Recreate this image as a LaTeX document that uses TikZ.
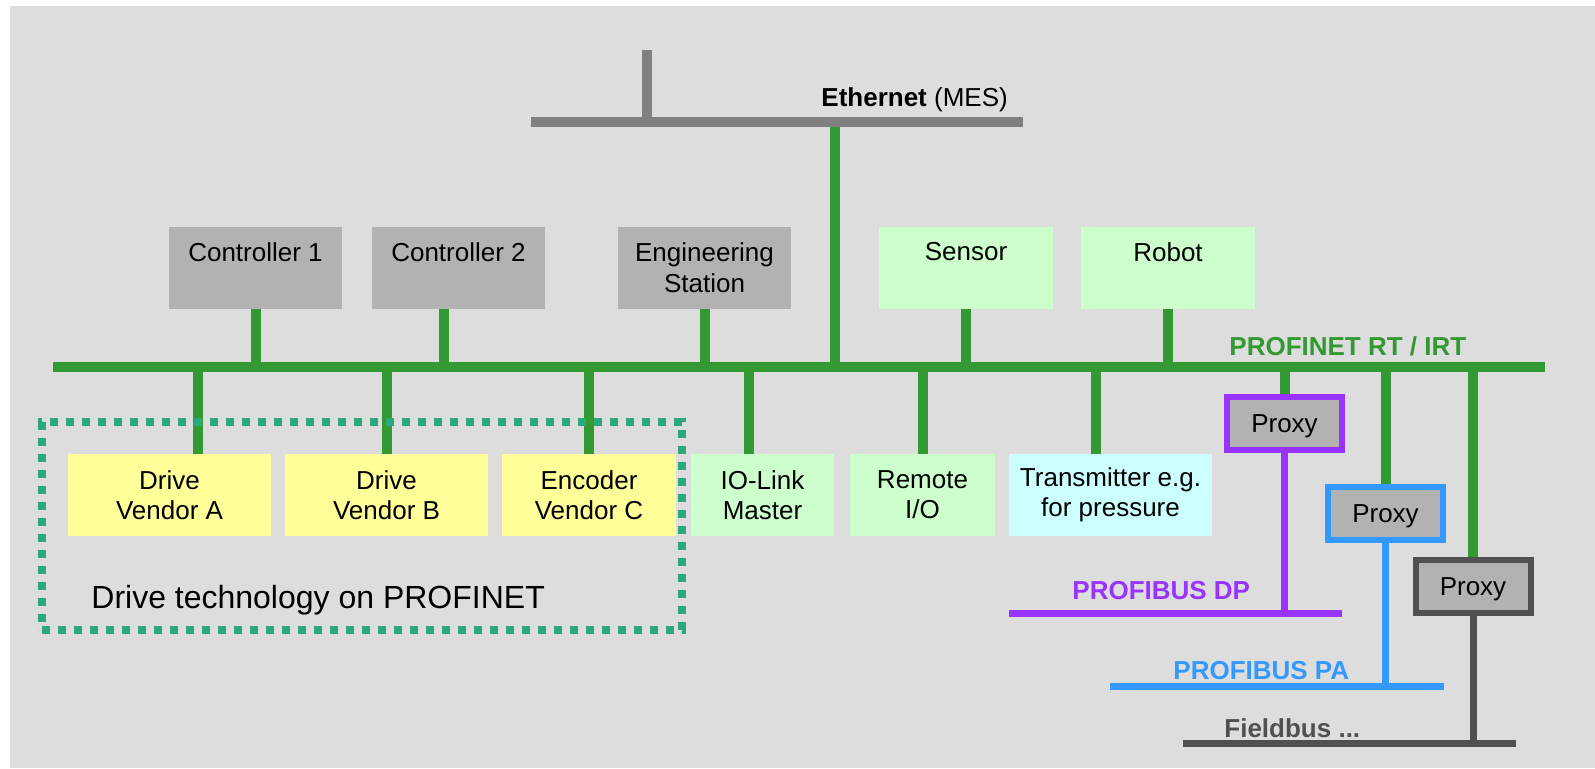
\documentclass[tikz,border=0pt]{standalone}
\usepackage{fontspec}
\setmainfont{Liberation Sans}
\definecolor{bg}{RGB}{221,221,221}
\definecolor{boxgray}{RGB}{178,178,178}
\definecolor{ethgray}{RGB}{128,128,128}
\definecolor{pngreen}{RGB}{51,153,51}
\definecolor{lgreen}{RGB}{204,255,204}
\definecolor{lyellow}{RGB}{255,255,153}
\definecolor{lcyan}{RGB}{204,255,255}
\definecolor{dppurple}{RGB}{153,51,255}
\definecolor{pablue}{RGB}{51,153,255}
\definecolor{fbgray}{RGB}{80,80,80}
\definecolor{dotgreen}{RGB}{44,168,122}
\begin{document}
\begin{tikzpicture}[x=0.5pt,y=-0.5pt,
  txt/.style={font=\fontsize{13}{15}\selectfont, align=center},
  box/.style={inner sep=0pt, outer sep=0pt, minimum height=41pt, txt},
  topbox/.style={box, minimum width=#1},
  botbox/.style={box, minimum width=#1},
  toplbl/.style={anchor=north, inner sep=0pt, yshift=-7.5pt, font=\fontsize{13}{15.5}\selectfont, align=center},
  proxy/.style={draw=#1, line width=3pt, fill=boxgray, inner sep=0pt, outer sep=0pt,
    minimum width=57.5pt, minimum height=26.5pt, text depth=0pt, txt},
  stub/.style={draw=pngreen, line width=5pt},
  bus/.style={draw=pngreen, line width=5pt},
  ethline/.style={draw=ethgray, line width=5pt},
  subbus/.style={draw=#1, line width=3.5pt},
  buslbl/.style={anchor=base west, inner sep=0pt, font=\fontsize{13}{15}\selectfont\bfseries, text=#1},
]
% background
\fill[white] (0,0) rectangle (1595,768);
\useasboundingbox (0,0) rectangle (1595,768);
\fill[bg] (10,6) rectangle (1595,768);

% bus coordinates
\coordinate (busL) at (53,367);
\coordinate (busR) at (1545,367);
\coordinate (ethL) at (531,122);
\coordinate (ethR) at (1023,122);
\coordinate (ethtop) at (647,50);
\coordinate (ethlink) at (835,122);
\coordinate (dpL) at (1009,613.5);
\coordinate (dpR) at (1342,613.5);
\coordinate (paL) at (1110,686);
\coordinate (paR) at (1444,686);
\coordinate (fbL) at (1183,743.5);
\coordinate (fbR) at (1516,743.5);

% top row
\node[topbox=86.5pt, fill=boxgray, label={[toplbl]north:Controller 1}] (c1) at (255.5,268) {};
\node[topbox=86.5pt, fill=boxgray, label={[toplbl]north:Controller 2}] (c2) at (458.5,268) {};
\node[topbox=86.5pt, fill=boxgray, label={[toplbl]north:Engineering\\Station}] (es) at (704.5,268) {};
\node[topbox=87pt, fill=lgreen, label={[toplbl]north:Sensor}] (sen) at (966,268) {};
\node[topbox=87pt, fill=lgreen, label={[toplbl]north:Robot}] (rob) at (1168,268) {};

% bottom row
\node[botbox=101.5pt, fill=lyellow] (dva) at (169.5,495) {Drive\\Vendor A};
\node[botbox=101.5pt, fill=lyellow] (dvb) at (386.5,495) {Drive\\Vendor B};
\node[botbox=87pt, fill=lyellow] (evc) at (589,495) {Encoder\\Vendor C};
\node[botbox=71.5pt, fill=lgreen] (iol) at (762.5,495) {IO-Link\\Master};
\node[botbox=72.5pt, fill=lgreen] (rio) at (922.5,495) {Remote\\I/O};
\node[botbox=101.5pt, fill=lcyan] (trm) at (1110.5,495) {Transmitter e.g.\\for pressure};

% proxies
\node[proxy=dppurple] (px1) at (1284.5,423.5) {Proxy};
\node[proxy=pablue] (px2) at (1385.5,513.5) {Proxy};
\node[proxy=fbgray] (px3) at (1473,586.5) {Proxy};

% shifted stub points
\coordinate (c2s) at ([xshift=-7.25pt]c2.south);
\coordinate (dvan) at ([xshift=14.25pt]dva.north);
\coordinate (ioln) at ([xshift=-7pt]iol.north);
\coordinate (trmn) at ([xshift=-7.25pt]trm.north);

% stubs up
\draw[stub] (c1.south) -- (c1.south |- busL);
\draw[stub] (c2s) -- (c2s |- busL);
\draw[stub] (es.south) -- (es.south |- busL);
\draw[stub] (sen.south) -- (sen.south |- busL);
\draw[stub] (rob.south) -- (rob.south |- busL);
\draw[stub] (ethlink) -- (ethlink |- busL);
% stubs down
\draw[stub] (dvan) -- (dvan |- busL);
\draw[stub] (dvb.north) -- (dvb.north |- busL);
\draw[stub] (evc.north) -- (evc.north |- busL);
\draw[stub] (ioln) -- (ioln |- busL);
\draw[stub] (rio.north) -- (rio.north |- busL);
\draw[stub] (trmn) -- (trmn |- busL);
\draw[stub] (px1.north) -- (px1.north |- busL);
\draw[stub] (px2.north) -- (px2.north |- busL);
\draw[stub] (px3.north) -- (px3.north |- busL);

% buses
\draw[bus] (busL) -- (busR);
\draw[ethline] (ethtop) -- (ethtop |- ethL);
\draw[ethline] (ethL) -- (ethR);

% sub-buses
\draw[subbus=dppurple] (px1.south) -- (px1.south |- dpL);
\draw[subbus=dppurple] (dpL) -- (dpR);
\draw[subbus=pablue] (px2.south) -- (px2.south |- paL);
\draw[subbus=pablue] (paL) -- (paR);
\draw[subbus=fbgray] (px3.south) -- (px3.south |- fbL);
\draw[subbus=fbgray] (fbL) -- (fbR);
% redraw proxies on top of lines
\node[proxy=dppurple] at (px1) {Proxy};
\node[proxy=pablue] at (px2) {Proxy};
\node[proxy=fbgray] at (px3) {Proxy};

% group
\node[draw=dotgreen, line width=4pt, dash pattern=on 4pt off 4pt, inner sep=0pt,
  minimum width=320pt, minimum height=104pt] (grp) at (362,526) {};
\node[anchor=base west, inner sep=0pt, font=\fontsize{16}{19}\selectfont] (grplbl) at (91,608) {Drive technology on PROFINET};

% labels
\node[anchor=base west, inner sep=0pt, font=\fontsize{13}{15}\selectfont] (ethlbl) at (821,106) {\textbf{Ethernet} (MES)};
\node[buslbl=pngreen] (pnlbl) at (1229,355) {PROFINET RT / IRT};
\node[buslbl=dppurple] (dplbl) at (1072,599) {PROFIBUS DP};
\node[buslbl=pablue] (palbl) at (1173,679) {PROFIBUS PA};
\node[buslbl=fbgray] (fblbl) at (1224,737) {Fieldbus ...};
\end{tikzpicture}
\end{document}
